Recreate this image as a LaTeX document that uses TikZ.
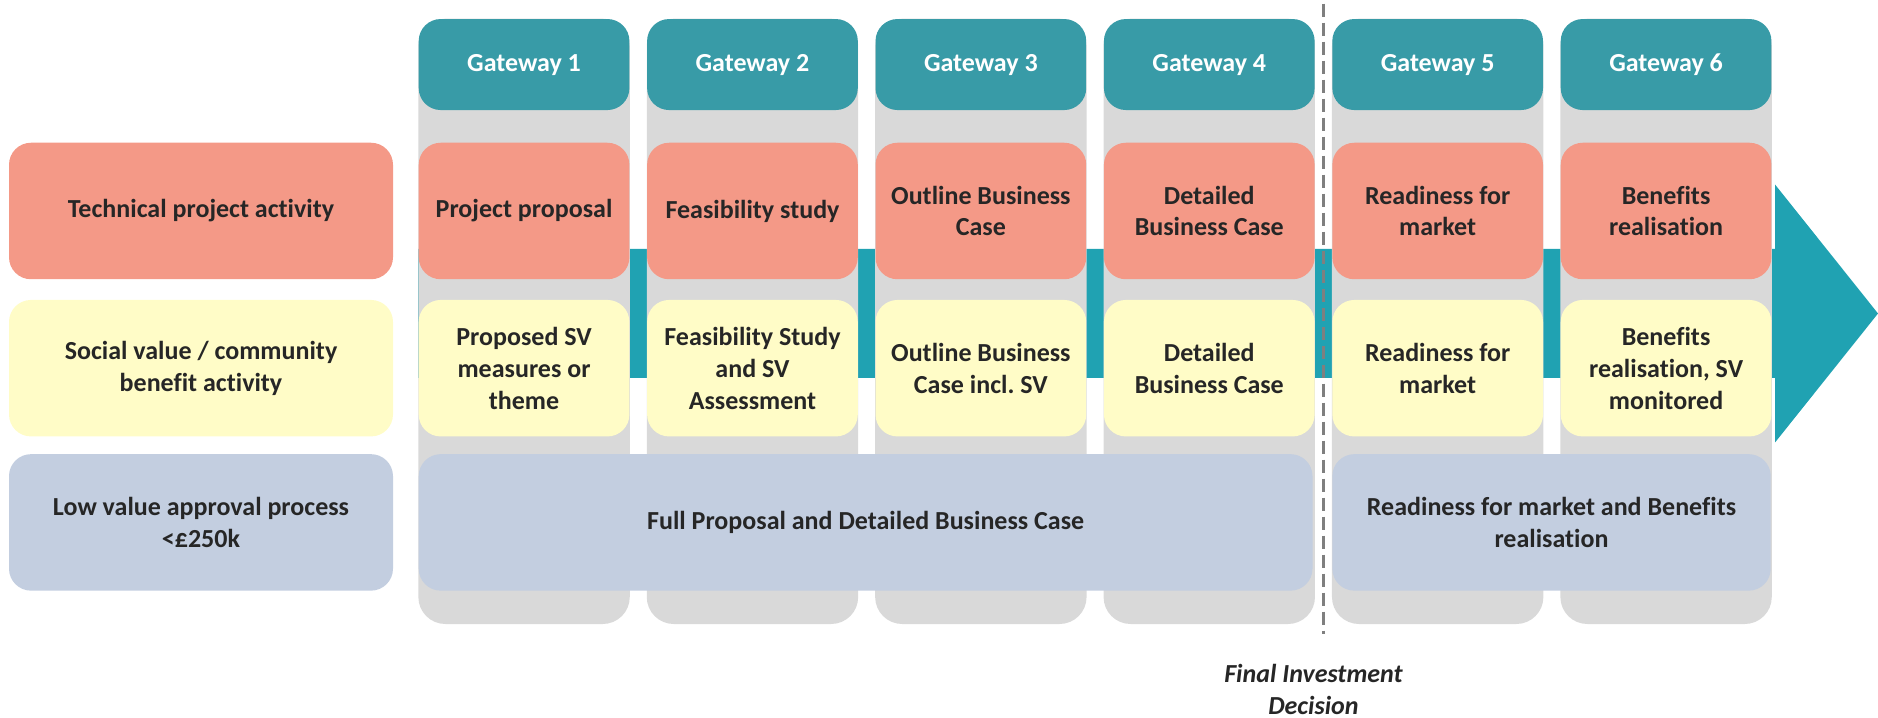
\documentclass[tikz,border=0pt]{standalone}
\usepackage{fontspec}
\setmainfont{Carlito}[Ligatures=NoCommon]
\usepackage{xcolor}
\usepackage{tikz}
\usetikzlibrary{positioning, calc, backgrounds}
\definecolor{ink}{HTML}{262626}
\definecolor{gatefill}{HTML}{389BA7}
\definecolor{flowfill}{HTML}{20A2B2}
\definecolor{techfill}{HTML}{F49987}
\definecolor{socfill}{HTML}{FFFCC7}
\definecolor{lowfill}{HTML}{C3CEE0}
\definecolor{colfill}{HTML}{D9D9D9}
\definecolor{dashcol}{HTML}{7F7F7F}
\tikzset{
    box/.style = {inner sep=0pt, align=center, rounded corners=0.44cm,
        text=ink, font=\bfseries\fontsize{14.8}{18.1}\selectfont},
    lane/.style = {box, minimum width=7.68cm, minimum height=2.73cm},
    cell/.style = {box, minimum width=4.214cm, minimum height=2.73cm},
    gate/.style = {box, fill=gatefill, text=white, minimum width=4.214cm, minimum height=1.82cm},
    tech/.style = {fill=techfill},
    social/.style = {fill=socfill},
    low/.style = {fill=lowfill},
    column/.style = {fill=colfill, rounded corners=0.54cm},
    flow/.style = {fill=flowfill},
    fid/.style = {draw=dashcol, line width=1.6pt, dash pattern=on 0.26cm off 0.12cm},
}

\begin{document}
\begin{tikzpicture}
        \useasboundingbox (0,0) rectangle (37.56,-14.36);
        \node [lane, tech] (techlab) at (4.02,-4.22) {Technical project activity};
        \node [lane, social, below=0.4cm of techlab] (soclab) {Social value / community\\benefit activity};
        \node [lane, low, below=0.34cm of soclab] (lowlab) {Low value approval process\\<£250k};

        \node [cell, tech, right=0.5cm of techlab] (t1) {Project proposal};
        \node [cell, tech, right=0.34cm of t1] (t2) {Feasibility study};
        \node [cell, tech, right=0.34cm of t2] (t3) {Outline Business\\Case};
        \node [cell, tech, right=0.34cm of t3] (t4) {Detailed\\Business Case};
        \node [cell, tech, right=0.34cm of t4] (t5) {Readiness for\\market};
        \node [cell, tech, right=0.34cm of t5] (t6) {Benefits\\realisation};

        \node [gate, above=0.64cm of t1] (g1) {Gateway 1};
        \node [gate, above=0.64cm of t2] (g2) {Gateway 2};
        \node [gate, above=0.64cm of t3] (g3) {Gateway 3};
        \node [gate, above=0.64cm of t4] (g4) {Gateway 4};
        \node [gate, above=0.64cm of t5] (g5) {Gateway 5};
        \node [gate, above=0.64cm of t6] (g6) {Gateway 6};

        \node [cell, social, below=0.4cm of t1] (s1) {Proposed SV\\measures or\\theme};
        \node [cell, social, below=0.4cm of t2] (s2) {Feasibility Study\\and SV\\Assessment};
        \node [cell, social, below=0.4cm of t3] (s3) {Outline Business\\Case incl.\ SV};
        \node [cell, social, below=0.4cm of t4] (s4) {Detailed\\Business Case};
        \node [cell, social, below=0.4cm of t5] (s5) {Readiness for\\market};
        \node [cell, social, below=0.4cm of t6] (s6) {Benefits\\realisation, SV\\monitored};

        \node [box, low, minimum width=17.876cm, minimum height=2.73cm,
            below=0.34cm of s1.south west, anchor=north west] (full) {Full Proposal and Detailed Business Case};
        \node [box, low, minimum width=8.768cm, minimum height=2.73cm,
            below=0.34cm of s5.south west, anchor=north west] (ready) {Readiness for market and Benefits\\realisation};

        \coordinate (flowmid) at (8.36,-6.27);
        \coordinate (tip) at (37.56,-6.27);
        \begin{scope}[on background layer]
            \fill [flow] ($(flowmid)+(0,1.29)$) -- ($(tip)+(-2.06,1.29)$) -- ($(tip)+(-2.06,2.58)$)
                -- (tip) -- ($(tip)+(-2.06,-2.58)$) -- ($(tip)+(-2.06,-1.29)$) -- ($(flowmid)+(0,-1.29)$) -- cycle;
            \fill [column] (g1.north west) rectangle ($(g1.east |- full.south)+(0,-0.66)$);
            \fill [column] (g2.north west) rectangle ($(g2.east |- full.south)+(0,-0.66)$);
            \fill [column] (g3.north west) rectangle ($(g3.east |- full.south)+(0,-0.66)$);
            \fill [column] (g4.north west) rectangle ($(g4.east |- full.south)+(0,-0.66)$);
            \fill [column] (g5.north west) rectangle ($(g5.east |- ready.south)+(0,-0.66)$);
            \fill [column] (g6.north west) rectangle ($(g6.east |- ready.south)+(0,-0.66)$);
        \end{scope}

        \coordinate (fidtop) at ($(g4.north east)!0.5!(g5.north west)+(0,0.3)$);
        \coordinate (fidbot) at ($(fidtop)+(0,-12.6)$);
        \draw [fid] (fidtop) -- (fidbot);
        \node [text=ink, align=center, inner sep=0pt, font=\bfseries\itshape\fontsize{14.8}{18.1}\selectfont]
            (fidlab) at ($(fidbot)+(-0.2,-1.12)$) {Final Investment\\Decision};
\end{tikzpicture}
\end{document}
